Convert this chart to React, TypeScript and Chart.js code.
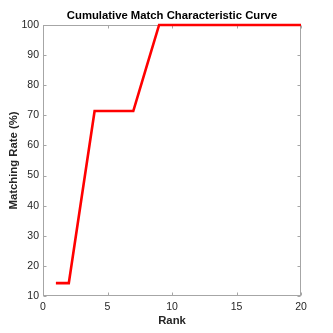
import React, { useEffect, useRef } from "react";
import { Chart, registerables } from "chart.js";
Chart.register(...registerables);

const ranks = [1, 2, 3, 4, 5, 6, 7, 8, 9, 10, 11, 12, 13, 14, 15, 16, 17, 18, 19, 20];
const matchingRate = [14.29, 14.29, 42.86, 71.43, 71.43, 71.43, 71.43, 85.71, 100, 100, 100, 100, 100, 100, 100, 100, 100, 100, 100, 100];
const xTicks = [0, 5, 10, 15, 20];
const yTicks = [10, 20, 30, 40, 50, 60, 70, 80, 90, 100];

const FONT = "'Liberation Sans', Arial, Helvetica, sans-serif";

const matlabAxes = {
  id: "matlabAxes",
  beforeDatasetsDraw(chart: any) {
    const { ctx, chartArea: a, scales } = chart;
    const tl = 3;
    ctx.save();
    ctx.strokeStyle = "#a6a6a6";
    ctx.lineWidth = 1;
    const L = Math.round(a.left) + 0.5;
    const R = Math.round(a.right) - 0.5;
    const T = Math.round(a.top) + 0.5;
    const B = Math.round(a.bottom) - 0.5;
    ctx.strokeRect(L, T, R - L, B - T);
    ctx.beginPath();
    for (const v of xTicks) {
      const x = Math.round(scales.x.getPixelForValue(v)) + 0.5;
      ctx.moveTo(x, B); ctx.lineTo(x, B - tl);
      ctx.moveTo(x, T); ctx.lineTo(x, T + tl);
    }
    for (const v of yTicks) {
      const y = Math.round(scales.y.getPixelForValue(v)) + 0.5;
      ctx.moveTo(L, y); ctx.lineTo(L + tl, y);
      ctx.moveTo(R, y); ctx.lineTo(R - tl, y);
    }
    ctx.stroke();
    ctx.restore();
  },
};

export default function App() {
  const ref = useRef<HTMLCanvasElement | null>(null);
  useEffect(() => {
    if (!ref.current) return;
    const chart = new Chart(ref.current, {
      type: "line",
      data: {
        datasets: [
          {
            data: ranks.map((r, i) => ({ x: r, y: matchingRate[i] })),
            borderColor: "#ff0000",
            backgroundColor: "#ff0000",
            borderWidth: 2.6,
            pointRadius: 0,
            tension: 0,
            clip: 4,
          },
        ],
      },
      options: {
        animation: false,
        responsive: true,
        maintainAspectRatio: false,
        layout: { padding: { left: 0, right: 32, top: 0, bottom: 0 } },
        plugins: {
          legend: { display: false },
          tooltip: { enabled: false },
          title: {
            display: true,
            text: "Cumulative Match Characteristic Curve",
            fullSize: false,
            color: "#000",
            font: { family: FONT, size: 11.3, weight: "bold" },
            padding: { top: 9.3, bottom: 2.1 },
          },
        },
        scales: {
          x: {
            type: "linear",
            min: 0,
            max: 20,
            grid: { display: false, drawTicks: false },
            border: { display: false },
            ticks: {
              stepSize: 5,
              padding: 5,
              color: "#262626",
              font: { family: FONT, size: 10.5 },
              maxRotation: 0,
            },
            title: {
              display: true,
              text: "Rank",
              color: "#262626",
              font: { family: FONT, size: 11.3, weight: "bold" },
              padding: { top: 0, bottom: 5.3 },
            },
            afterFit: (s: any) => { s.height = 37; },
          },
          y: {
            type: "linear",
            min: 10,
            max: 100,
            grid: { display: false, drawTicks: false },
            border: { display: false },
            ticks: {
              stepSize: 10,
              padding: 4,
              color: "#262626",
              font: { family: FONT, size: 10.5 },
            },
            title: {
              display: true,
              text: "Matching Rate (%)",
              color: "#262626",
              font: { family: FONT, size: 11.3, weight: "bold" },
              padding: { top: 7.4, bottom: 0 },
            },
            afterFit: (s: any) => { s.width = 43; },
          },
        },
      },
      plugins: [matlabAxes],
    });
    return () => chart.destroy();
  }, []);
  return (
    <div style={{ position: "fixed", left: 0, top: 0, width: 333, height: 333, background: "#fff" }}>
      <canvas ref={ref} />
    </div>
  );
}
